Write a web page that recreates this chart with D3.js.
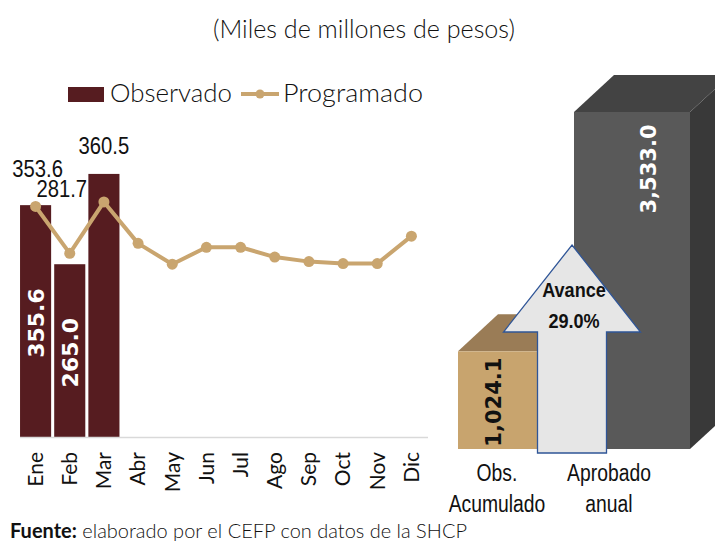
<!DOCTYPE html>
<html>
<head>
<meta charset="utf-8">
<script src="https://cdn.jsdelivr.net/npm/d3@7"></script>
<style>
  html, body { margin: 0; padding: 0; background: #fff; }
  svg { display: block; }
</style>
</head>
<body>
<svg id="chart" width="715" height="546"></svg>
<script>
// Monthly data (miles de millones de pesos)
const months = ["Ene", "Feb", "Mar", "Abr", "May", "Jun", "Jul", "Ago", "Sep", "Oct", "Nov", "Dic"];
const observado = [355.6, 265.0, 403.5];
const programado = [353.6, 281.7, 360.5, 297, 265, 291, 291, 276, 269, 266, 266, 308];
const observadoLabels = ["355.6", "265.0", null];
const programadoLabels = ["353.6", "281.7", "360.5"];

// Annual comparison
const annualCats = ["Obs. Acumulado", "Aprobado anual"];
const annualVals = [1024.1, 3533.0];
const annualLabels = ["1,024.1", "3,533.0"];
const avanceText = ["Avance", "29.0%"];

const colors = {
  bar: '#561c20',
  line: '#c9a56f',
  axis: '#d9d9d9',
  text: '#111',
  tanFront: '#c8a46e',
  tanTop: '#9a7c56',
  darkFront: '#595959',
  darkTop: '#434343',
  darkSide: '#393939',
  arrowFill: '#e6e6e6',
  arrowStroke: '#2f5597'
};

const gothic = 'Lato, "Open Sans", sans-serif';
const calibri = '"Liberation Sans", Arial, sans-serif';
const verdana = '"DejaVu Sans", Verdana, sans-serif';

// squeeze text horizontally to mimic the narrow Calibri face
function condense(sel, factor) {
  sel.each(function() {
    const w = this.getComputedTextLength();
    d3.select(this)
      .attr('textLength', w * factor)
      .attr('lengthAdjust', 'spacingAndGlyphs');
  });
}

const svg = d3.select('#chart');

// Title
svg.append('text')
  .attr('x', 364).attr('y', 38)
  .attr('text-anchor', 'middle')
  .attr('font-family', gothic)
  .attr('font-size', 26)
  .attr('font-weight', 300)
  .attr('fill', colors.text)
  .attr('textLength', 302)
  .attr('lengthAdjust', 'spacingAndGlyphs')
  .text('(Miles de millones de pesos)');

// ---------- Left: monthly chart ----------
const x = d3.scaleBand()
  .domain(months)
  .range([18.5, 428.5])
  .paddingInner(0.09)
  .paddingOuter(0.045);

const y = d3.scaleLinear()
  .domain([0, 450])
  .range([437, 437 - 450 * 0.652]);

const left = svg.append('g').attr('class', 'monthly');

// bars
left.selectAll('rect.bar')
  .data(observado)
  .join('rect')
  .attr('class', 'bar')
  .attr('x', (d, i) => x(months[i]))
  .attr('y', d => y(d))
  .attr('width', x.bandwidth())
  .attr('height', d => y(0) - y(d))
  .attr('fill', colors.bar);

// baseline
left.append('line')
  .attr('x1', 20).attr('x2', 428)
  .attr('y1', y(0) + 0.5).attr('y2', y(0) + 0.5)
  .attr('stroke', colors.axis)
  .attr('stroke-width', 1.5);

// x axis labels (rotated)
const xAxis = d3.axisBottom(x).tickSize(0).tickPadding(0);
const xAxisG = left.append('g')
  .attr('transform', `translate(0, ${y(0)})`)
  .call(xAxis);
xAxisG.select('.domain').remove();
xAxisG.selectAll('text')
  .attr('transform', 'rotate(-90)')
  .attr('x', -15)
  .attr('y', 0)
  .attr('dy', '0.35em')
  .attr('text-anchor', 'end')
  .attr('font-family', gothic)
  .attr('font-size', 21)
  .attr('font-weight', 400)
  .attr('fill', colors.text);

// inner bar labels
left.selectAll('text.inner')
  .data(observado.map((v, i) => ({ v, i, label: observadoLabels[i] })).filter(d => d.label))
  .join('text')
  .attr('class', 'inner')
  .attr('transform', d => {
    const cx = x(months[d.i]) + x.bandwidth() / 2;
    const cy = (y(d.v) + y(0)) / 2 + 2;
    return `translate(${cx}, ${cy}) rotate(-90)`;
  })
  .attr('text-anchor', 'middle')
  .attr('dy', '0.36em')
  .attr('font-family', verdana)
  .attr('font-weight', 'bold')
  .attr('font-size', 22)
  .attr('fill', '#fff')
  .text(d => d.label);

// programado line
const line = d3.line()
  .x((d, i) => x(months[i]) + x.bandwidth() / 2)
  .y(d => y(d));

left.append('path')
  .datum(programado)
  .attr('d', line)
  .attr('fill', 'none')
  .attr('stroke', colors.line)
  .attr('stroke-width', 4)
  .attr('stroke-linejoin', 'round');

left.selectAll('circle.pt')
  .data(programado)
  .join('circle')
  .attr('class', 'pt')
  .attr('cx', (d, i) => x(months[i]) + x.bandwidth() / 2)
  .attr('cy', d => y(d))
  .attr('r', 5.5)
  .attr('fill', colors.line);

// programado labels (offsets like the Excel placement)
const progLabelOffsets = [[2, -29], [-8, -56], [0, -48]];
left.selectAll('text.prog')
  .data(programadoLabels)
  .join('text')
  .attr('class', 'prog')
  .attr('x', (d, i) => x(months[i]) + x.bandwidth() / 2 + progLabelOffsets[i][0])
  .attr('y', (d, i) => y(programado[i]) + progLabelOffsets[i][1])
  .attr('text-anchor', 'middle')
  .attr('font-family', calibri)
  .attr('font-size', 23)
  .attr('fill', colors.text)
  .text(d => d)
  .call(condense, 0.88);

// legend
const legend = svg.append('g').attr('class', 'legend');
legend.append('rect')
  .attr('x', 68).attr('y', 87).attr('width', 36).attr('height', 15)
  .attr('fill', colors.bar);
legend.append('text')
  .attr('x', 110).attr('y', 102)
  .attr('font-family', gothic).attr('font-size', 25).attr('font-weight', 300)
  .attr('textLength', 122).attr('lengthAdjust', 'spacingAndGlyphs')
  .attr('fill', colors.text)
  .text('Observado');
legend.append('line')
  .attr('x1', 241).attr('x2', 279).attr('y1', 94).attr('y2', 94)
  .attr('stroke', colors.line).attr('stroke-width', 4);
legend.append('circle')
  .attr('cx', 260).attr('cy', 94).attr('r', 4.5)
  .attr('fill', colors.line);
legend.append('text')
  .attr('x', 283).attr('y', 102)
  .attr('font-family', gothic).attr('font-size', 25).attr('font-weight', 300)
  .attr('textLength', 140).attr('lengthAdjust', 'spacingAndGlyphs')
  .attr('fill', colors.text)
  .text('Programado');

// ---------- Right: 3D annual comparison ----------
const xr = d3.scaleBand()
  .domain(annualCats)
  .range([458, 690])
  .padding(0);

const yr = d3.scaleLinear()
  .domain([0, 3533])
  .range([449, 112]);

const depth = { dx: 40, dy: -37 };
const faces = [
  { front: colors.tanFront, top: colors.tanTop, side: colors.tanTop },
  { front: colors.darkFront, top: colors.darkTop, side: colors.darkSide }
];

const right = svg.append('g').attr('class', 'annual');

annualVals.forEach((v, i) => {
  const x0 = xr(annualCats[i]);
  const x1 = x0 + xr.bandwidth();
  const yt = yr(v);
  const yb = yr(0);
  const g = right.append('g');
  // right side
  g.append('path')
    .attr('d', `M${x1},${yt} L${x1 + depth.dx},${yt + depth.dy} L${x1 + depth.dx},${yb + depth.dy} L${x1},${yb} Z`)
    .attr('fill', faces[i].side);
  // top
  g.append('path')
    .attr('d', `M${x0},${yt} L${x0 + depth.dx},${yt + depth.dy} L${x1 + depth.dx},${yt + depth.dy} L${x1},${yt} Z`)
    .attr('fill', faces[i].top);
  // front
  g.append('rect')
    .attr('x', x0).attr('y', yt)
    .attr('width', xr.bandwidth()).attr('height', yb - yt)
    .attr('fill', faces[i].front);
});

// value labels inside the boxes
const annualLabelPos = [
  { dx: -23, fill: '#111' },
  { dx: 16, fill: '#fff' }
];
right.selectAll('text.val')
  .data(annualLabels)
  .join('text')
  .attr('class', 'val')
  .attr('transform', (d, i) => {
    const cx = xr(annualCats[i]) + xr.bandwidth() / 2 + annualLabelPos[i].dx;
    const cy = i === 0 ? (yr(annualVals[i]) + yr(0)) / 2 + 2 : yr(annualVals[i]) + 57;
    return `translate(${cx}, ${cy}) rotate(-90)`;
  })
  .attr('text-anchor', 'middle')
  .attr('dy', '0.36em')
  .attr('font-family', verdana)
  .attr('font-weight', 'bold')
  .attr('font-size', 21)
  .attr('fill', (d, i) => annualLabelPos[i].fill)
  .text(d => d);

// arrow annotation (Avance)
const ax = xr(annualCats[1]) - 2;
const arrowPts = [
  [ax, 245],
  [ax + 68.5, 332],
  [ax + 34.5, 332],
  [ax + 34.5, 453],
  [ax - 34.5, 453],
  [ax - 34.5, 332],
  [ax - 68.5, 332]
];
right.append('path')
  .attr('d', d3.line()(arrowPts) + 'Z')
  .attr('fill', colors.arrowFill)
  .attr('stroke', colors.arrowStroke)
  .attr('stroke-width', 1.3);

right.selectAll('text.avance')
  .data(avanceText)
  .join('text')
  .attr('class', 'avance')
  .attr('x', ax + 2)
  .attr('y', (d, i) => 297 + i * 31)
  .attr('text-anchor', 'middle')
  .attr('font-family', calibri)
  .attr('font-weight', 'bold')
  .attr('font-size', 21)
  .attr('fill', colors.text)
  .text(d => d)
  .call(condense, 0.86);

// category labels (two lines)
const catLabelDx = [-19, -23];
const catLines = annualCats.flatMap((c, i) =>
  c.split(' ').map((p, k) => ({ p, i, k })));
right.selectAll('text.cat')
  .data(catLines)
  .join('text')
  .attr('class', 'cat')
  .attr('x', d => xr(annualCats[d.i]) + xr.bandwidth() / 2 + catLabelDx[d.i])
  .attr('y', d => 481 + d.k * 31)
  .attr('text-anchor', 'middle')
  .attr('font-family', calibri)
  .attr('font-size', 23)
  .attr('fill', colors.text)
  .text(d => d.p)
  .call(condense, 0.84);

// source note
const note = svg.append('text')
  .attr('x', 10).attr('y', 538)
  .attr('font-family', gothic)
  .attr('font-size', 20)
  .attr('fill', colors.text)
  .attr('textLength', 457)
  .attr('lengthAdjust', 'spacingAndGlyphs');
note.append('tspan').attr('font-weight', 'bold').text('Fuente:');
note.append('tspan').attr('font-weight', 300).text(' elaborado por el CEFP con datos de la SHCP');
</script>
</body>
</html>
